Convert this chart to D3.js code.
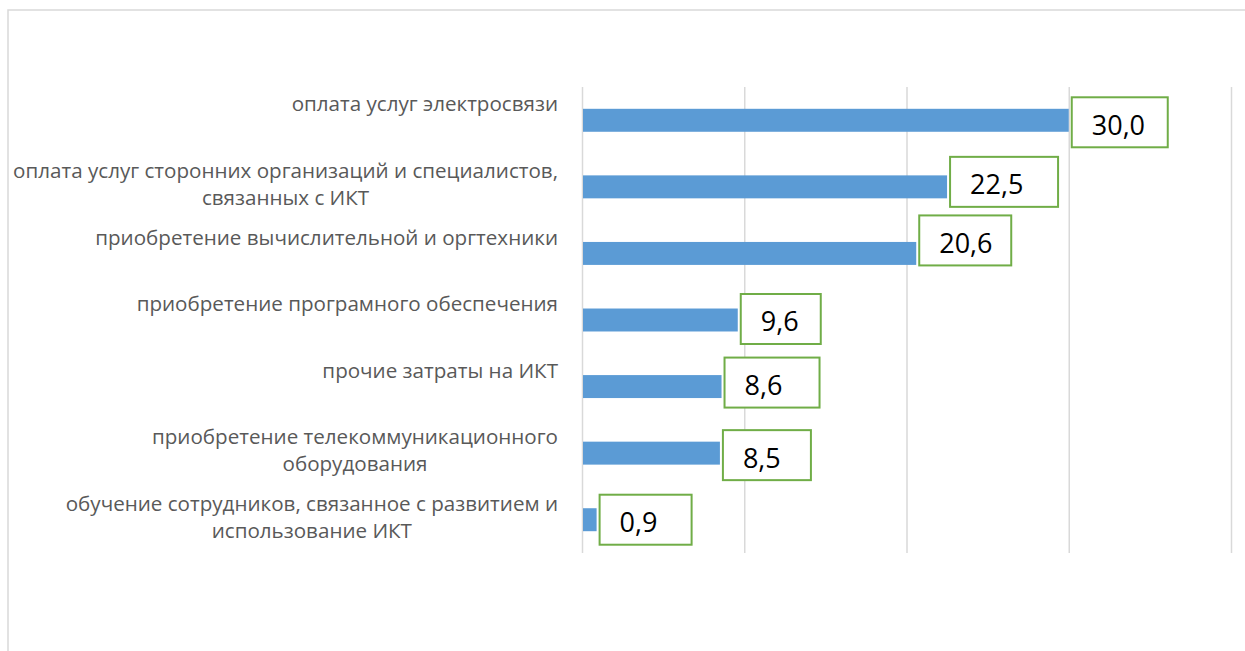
<!DOCTYPE html>
<html><head><meta charset="utf-8">
<script src="https://cdn.jsdelivr.net/npm/d3@7"></script>
<style>html,body{margin:0;padding:0;background:#fff;overflow:hidden}</style>
</head><body>
<svg id="chart" width="1245" height="651"></svg>
<script>
// ---- data ----
const categories = [
  ["оплата услуг электросвязи"],
  ["оплата услуг сторонних организаций и специалистов,", "связанных с ИКТ"],
  ["приобретение вычислительной и оргтехники"],
  ["приобретение програмного обеспечения"],
  ["прочие затраты на ИКТ"],
  ["приобретение телекоммуникационного", "оборудования"],
  ["обучение сотрудников, связанное с развитием и", "использование ИКТ"]
];
const values = [30.0, 22.5, 20.6, 9.6, 8.6, 8.5, 0.9];
const xTicks = [0, 10, 20, 30, 40];

// ---- layout / style (not data) ----
const boxWidths = [96, 108, 92, 80, 95, 88, 92];
const boxDy = [2, -5, -13, -1, -4, 2, 0];

const svg = d3.select("#chart");
svg.append("rect").attr("x", 8).attr("y", 10).attr("width", 1400).attr("height", 800)
  .attr("fill", "#fff").attr("stroke", "#D9D9D9").attr("stroke-width", 1.5);

const x = d3.scaleLinear().domain([0, 40]).range([582, 1231]);
const y = d3.scaleBand().domain(d3.range(categories.length)).range([87, 553]).paddingInner(0.655).paddingOuter(0.3275);

// gridlines
const gx = svg.append("g").attr("transform", "translate(0,553)")
  .call(d3.axisBottom(x).tickValues(xTicks).tickSize(-(553 - 87)).tickFormat(""));
gx.select(".domain").remove();
gx.selectAll("line").attr("stroke", "#D9D9D9").attr("stroke-width", 1.5);

// bars
svg.append("g").selectAll("rect").data(values).join("rect")
  .attr("x", x(0) + 1)
  .attr("y", (d, i) => y(i))
  .attr("width", d => Math.max(0, x(d) - x(0) - 1))
  .attr("height", y.bandwidth())
  .attr("fill", "#5B9BD5");

// category labels (block right-aligned, lines centred within block)
const labelRight = 558;
const labels = svg.append("g").attr("font-family", "'Open Sans', sans-serif")
  .attr("font-size", 20.6).attr("fill", "#595959");
categories.forEach((lines, i) => {
  const cy = y(i) + y.bandwidth() / 2;
  const first = labels.append("text").attr("x", labelRight).attr("y", cy - 16)
    .attr("dy", "0.35em").attr("text-anchor", "end").text(lines[0]);
  const w = first.node().getComputedTextLength();
  lines.slice(1).forEach((ln, k) => {
    labels.append("text").attr("x", labelRight - w / 2)
      .attr("y", cy - 16 + 27 * (k + 1)).attr("dy", "0.35em")
      .attr("text-anchor", "middle").text(ln);
  });
});

// value label boxes
const fmt = v => v.toFixed(1).replace(".", ",");
const vl = svg.append("g");
values.forEach((v, i) => {
  const cy = y(i) + y.bandwidth() / 2 + boxDy[i];
  const bx = x(v) + 3;
  const h = 50;
  vl.append("rect").attr("x", bx).attr("y", cy - h / 2).attr("width", boxWidths[i]).attr("height", h)
    .attr("fill", "#fff").attr("stroke", "#70AD47").attr("stroke-width", 2);
  vl.append("text").attr("x", bx + 20).attr("y", cy + 3).attr("dy", "0.35em")
    .attr("font-family", "'Open Sans', sans-serif").attr("font-size", 27).attr("fill", "#000")
    .text(fmt(v));
});
</script>
</body></html>
